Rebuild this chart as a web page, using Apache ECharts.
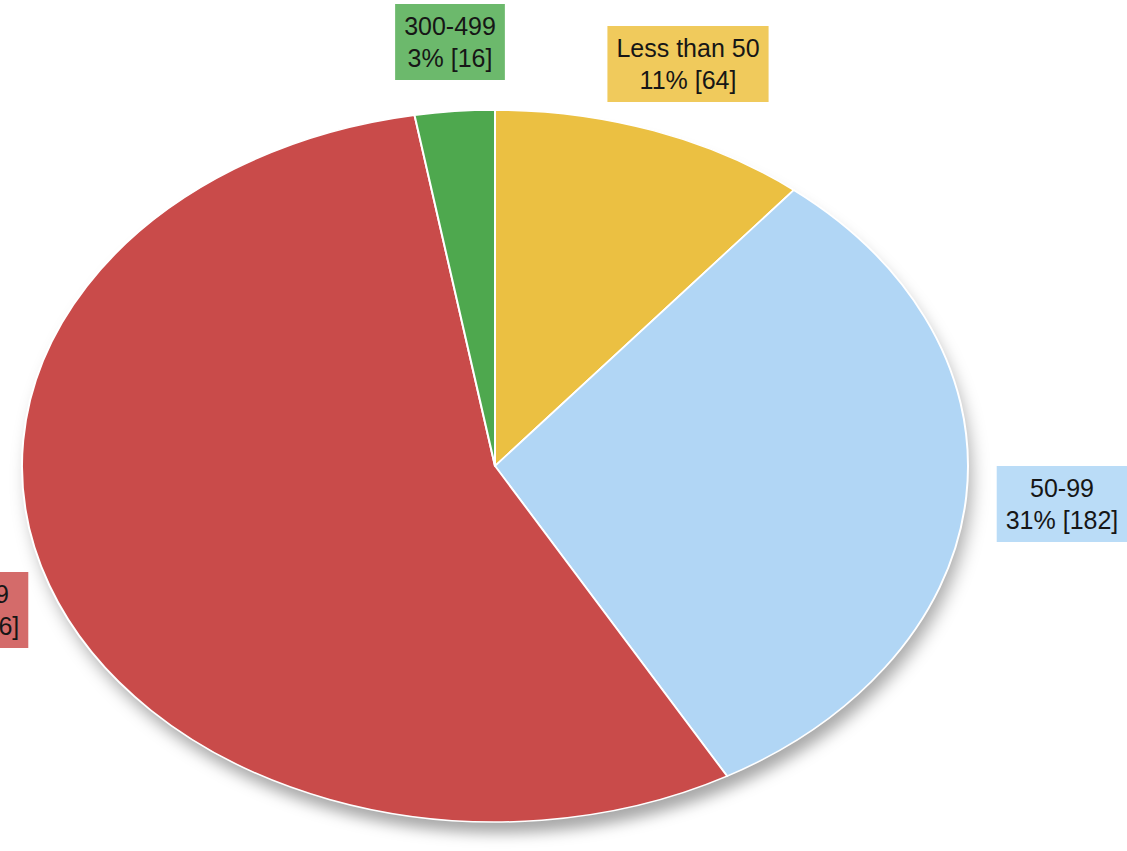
<!DOCTYPE html>
<html>
<head>
<meta charset="utf-8">
<title>Distribution by size</title>
<script src="https://cdn.jsdelivr.net/npm/echarts@6/dist/echarts.min.js"></script>
<style>
  html, body { margin: 0; padding: 0; background: #ffffff; overflow: hidden; }
  #stage { position: relative; width: 1127px; height: 851px; overflow: hidden; }
  #pie { position: absolute; left: 0; top: 0; width: 1127px; transform-origin: 0 0; }
  #labels { position: absolute; left: 0; top: 0; width: 1127px; height: 851px; }
</style>
</head>
<body>
<div id="stage">
  <div id="pie"></div>
  <div id="labels"></div>
</div>
<script>
// Size buckets and their counts
const categories = ['Less than 50', '50-99', '100-299', '300-499'];
const counts = [64, 182, 326, 16];

// Slice fills and label box fills
const sliceColors = ['#ebc042', '#b1d6f5', '#c94b4a', '#4ea84e'];
const boxColors = ['#f0ca5c', '#badcf7', '#d46b6a', '#6cb96c'];

// Oval geometry of the pie on the page
const CX = 495, CY = 466, RX = 473, RY = 356;
const SQUASH = RY / RX;

// Where each label box sits (centre of the box, page pixels)
const labelCentres = [[688, 64], [1062, 504], [-37, 610], [450, 42]];

const total = counts.reduce((a, b) => a + b, 0);

// The pie is drawn as a circle and squashed vertically into an oval
const pieEl = document.getElementById('pie');
const pieHeight = 851 / SQUASH;
pieEl.style.height = pieHeight + 'px';
pieEl.style.transform = 'scaleY(' + SQUASH + ')';

const pieChart = echarts.init(pieEl, null, { renderer: 'svg' });
pieChart.setOption({
  animation: false,
  graphic: [{
    type: 'circle',
    z: 0,
    silent: true,
    shape: { cx: CX, cy: CY / SQUASH, r: RX - 2 },
    style: {
      fill: '#ffffff',
      shadowBlur: 18,
      shadowOffsetX: 5,
      shadowOffsetY: 17,
      shadowColor: 'rgba(0,0,0,0.34)'
    }
  }],
  series: [{
    type: 'pie',
    z: 2,
    center: [CX, CY / SQUASH],
    radius: [0, RX],
    startAngle: 90,
    clockwise: true,
    silent: true,
    label: { show: false },
    labelLine: { show: false },
    itemStyle: { borderColor: '#ffffff', borderWidth: 2 },
    emphasis: { disabled: true },
    data: categories.map((name, i) => ({
      name: name,
      value: counts[i],
      itemStyle: { color: sliceColors[i] }
    }))
  }]
});

// Labels are drawn unsquashed on top of the oval
const labelChart = echarts.init(document.getElementById('labels'), null, { renderer: 'svg' });
labelChart.setOption({
  animation: false,
  graphic: categories.map((name, i) => ({
    type: 'text',
    silent: true,
    x: labelCentres[i][0],
    y: labelCentres[i][1],
    style: {
      text: name + '\n' + Math.round(counts[i] / total * 100) + '% [' + counts[i] + ']',
      fill: '#161616',
      font: '25px "Liberation Sans", Arial, sans-serif',
      lineHeight: 32,
      align: 'center',
      verticalAlign: 'middle',
      backgroundColor: boxColors[i],
      padding: [6, 9]
    }
  }))
});
</script>
</body>
</html>
